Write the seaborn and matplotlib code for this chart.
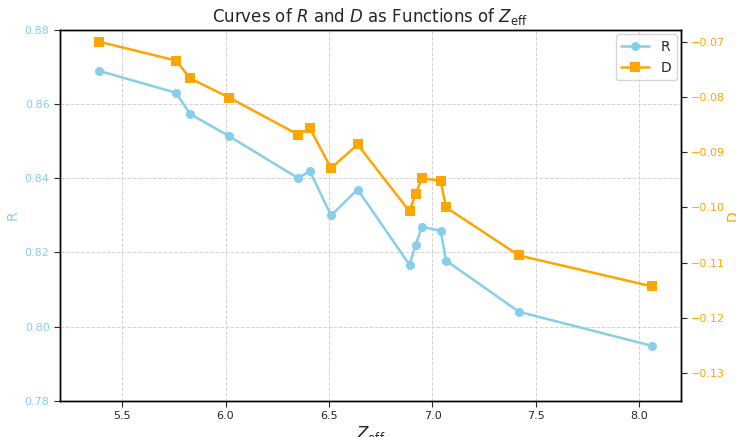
import numpy as np
import pandas as pd
import matplotlib
matplotlib.use("Agg")
import matplotlib.pyplot as plt
import seaborn as sns

# values
z_eff = [5.390, 5.761, 5.828, 6.017, 6.350, 6.408, 6.510, 6.638,
         6.889, 6.918, 6.949, 7.039, 7.066, 7.418, 8.061]
r_vals = [0.8690, 0.8631, 0.8574, 0.8514, 0.8401, 0.8419, 0.8300, 0.8370,
          0.8167, 0.8220, 0.8269, 0.8259, 0.8178, 0.8040, 0.7948]
d_vals = [-0.0700, -0.0734, -0.0766, -0.0801, -0.0868, -0.0857, -0.0929, -0.0886,
          -0.1007, -0.0976, -0.0947, -0.0952, -0.1000, -0.1087, -0.1143]

r_color = "skyblue"
d_color = "orange"

df = pd.DataFrame({"Zeff": z_eff, "R": r_vals, "D": d_vals})

sns.set_style("white")
plt.rcParams["font.family"] = ["DejaVu Sans"]

fig, ax1 = plt.subplots(figsize=(7.36, 4.37), dpi=100)
fig.subplots_adjust(left=0.0815, right=0.925, top=0.931, bottom=0.083)

sns.lineplot(data=df, x="Zeff", y="R", ax=ax1, color=r_color, marker="o",
             markersize=6.5, markeredgewidth=0, linewidth=1.8, label="R", legend=False)
ax1.set_ylim(0.78, 0.88)
ax1.set_xlim(5.2, 8.2)
ax1.set_ylabel("R", color=r_color, fontsize=10, labelpad=4)
ax1.set_xlabel(r"$Z_{\mathrm{eff}}$", fontsize=12, labelpad=2)
ax1.tick_params(axis="y", labelcolor=r_color, labelsize=8, length=4, left=True)
ax1.tick_params(axis="x", labelsize=8, length=4, bottom=True)
ax1.grid(True, linestyle="--", color="lightgray", linewidth=0.7)

ax2 = ax1.twinx()
sns.lineplot(data=df, x="Zeff", y="D", ax=ax2, color=d_color, marker="s",
             markersize=7, markeredgewidth=0, linewidth=1.8, label="D", legend=False)
ax2.set_ylim(-0.135, -0.0679)
ax2.set_ylabel("D", color=d_color, fontsize=10, labelpad=0)
ax2.tick_params(axis="y", labelcolor=d_color, labelsize=8, length=4, right=True)
ax2.grid(False)

for ax in (ax1, ax2):
    for s in ax.spines.values():
        s.set_color("black")
        s.set_linewidth(1.0)

h1, l1 = ax1.get_legend_handles_labels()
h2, l2 = ax2.get_legend_handles_labels()
ax1.legend(h1 + h2, l1 + l2, loc="upper right", fontsize=10, borderaxespad=0.3)

ax1.set_title(r"Curves of $R$ and $D$ as Functions of $Z_{\mathrm{eff}}$", fontsize=12)

fig.savefig("out.png", dpi=100)
